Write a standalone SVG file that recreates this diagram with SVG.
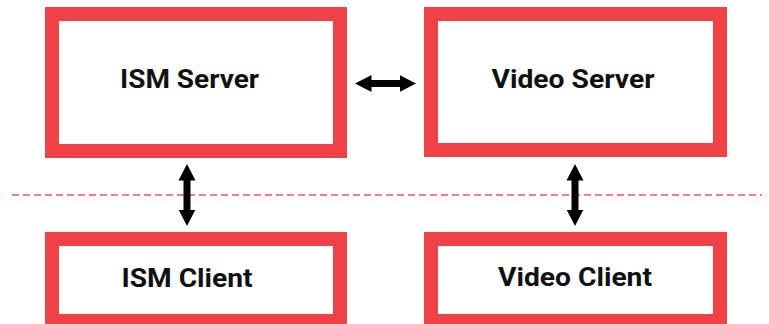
<svg xmlns="http://www.w3.org/2000/svg" width="769" height="324" viewBox="0 0 769 324">
<style>
.box{fill:#fff;stroke:#ef4146;stroke-width:14}
.lbl{font-family:"Roboto","Liberation Sans",sans-serif;font-weight:bold;font-size:25.5px;fill:#111;text-anchor:middle}
.conn{stroke:#000;stroke-width:7;fill:none;marker-start:url(#ah);marker-end:url(#ah)}
.sep{stroke:#ef4146;stroke-width:1.5;stroke-dasharray:7 4;fill:none;opacity:0.9}
</style>
<defs>
<marker id="ah" markerUnits="userSpaceOnUse" markerWidth="17" markerHeight="18" viewBox="0 0 17 18" refX="0.5" refY="9" orient="auto-start-reverse">
<path d="M0,0.5 L16.5,9 L0,17.5 Z" fill="#000"/>
</marker>
</defs>
<rect width="769" height="324" fill="#fff"/>
<line class="sep" x1="12" y1="195" x2="762" y2="195"/>
<g id="ism-server">
<rect class="box" x="52" y="14" width="288" height="137"/>
<text class="lbl" x="189.5" y="88" textLength="139" lengthAdjust="spacingAndGlyphs">ISM Server</text>
</g>
<g id="video-server">
<rect class="box" x="431" y="14" width="289" height="136"/>
<text class="lbl" x="573" y="88" textLength="163" lengthAdjust="spacingAndGlyphs">Video Server</text>
</g>
<g id="ism-client">
<rect class="box" x="52" y="239" width="288" height="82"/>
<text class="lbl" x="187" y="286.5" textLength="131" lengthAdjust="spacingAndGlyphs">ISM Client</text>
</g>
<g id="video-client">
<rect class="box" x="431" y="239" width="289" height="82"/>
<text class="lbl" x="575" y="286" textLength="154" lengthAdjust="spacingAndGlyphs">Video Client</text>
</g>
<g id="connectors">
<line class="conn" x1="371" y1="83.5" x2="400" y2="83.5"/>
<line class="conn" x1="187" y1="180" x2="187" y2="210"/>
<line class="conn" x1="575" y1="180" x2="575" y2="210"/>
</g>
</svg>
